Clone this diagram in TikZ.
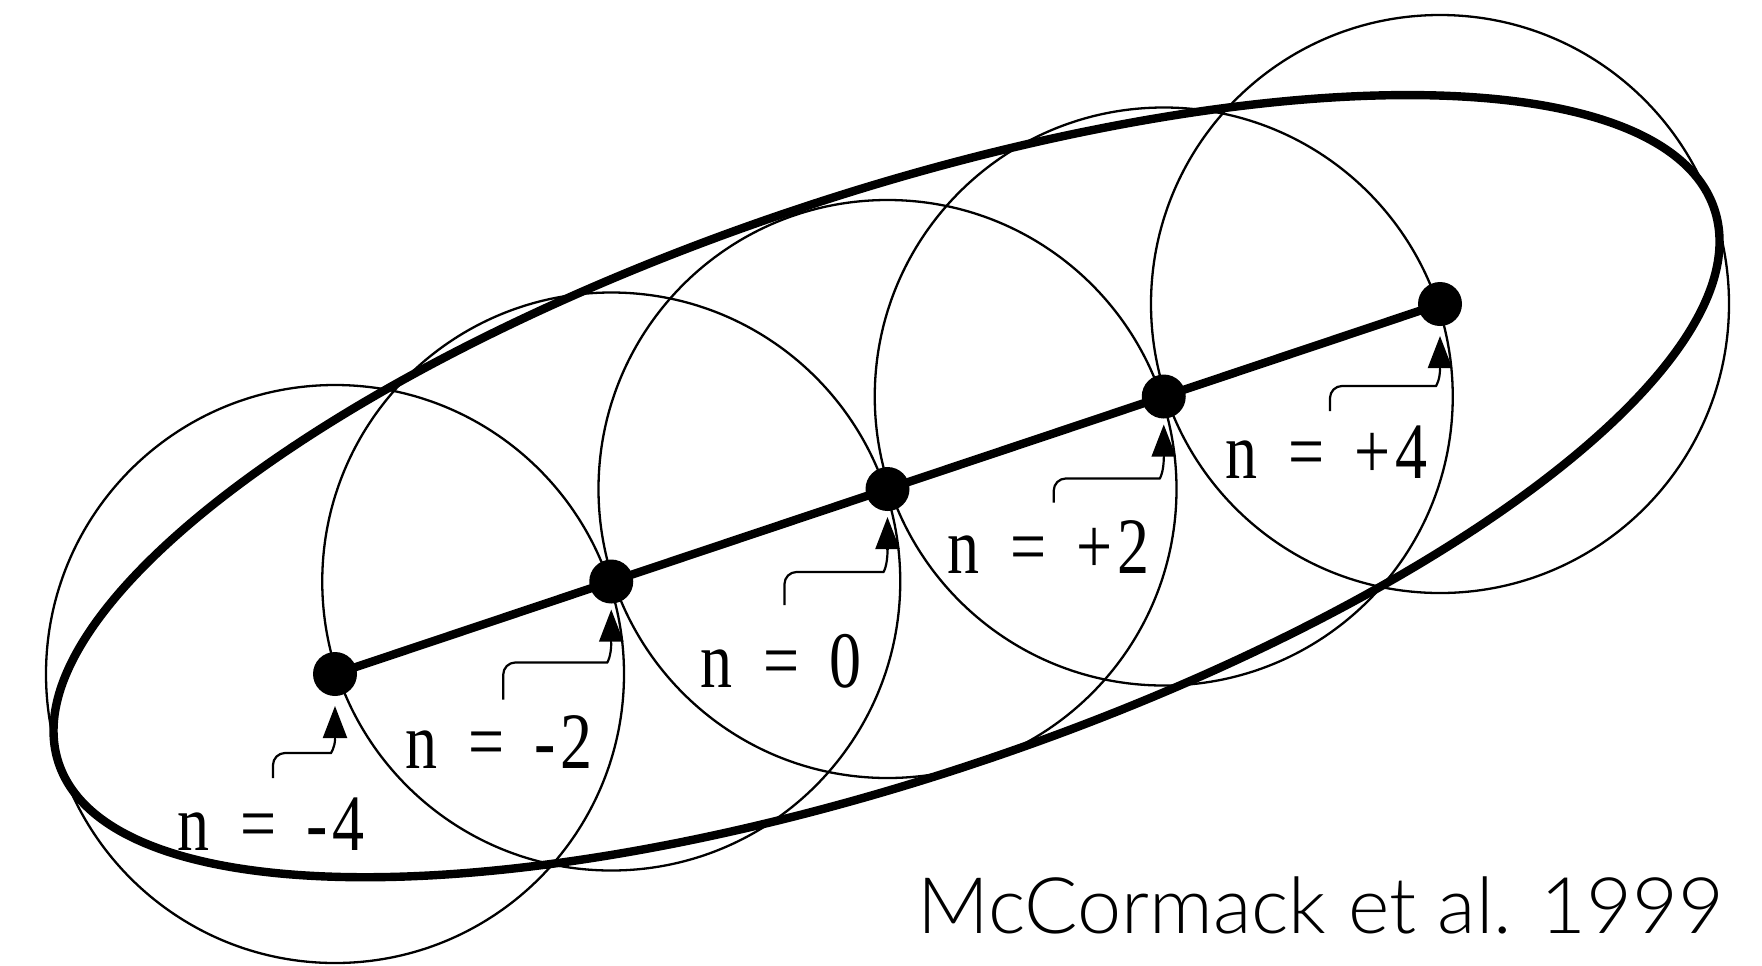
\documentclass[tikz,border=0pt]{standalone}
\usepackage{fontspec}
\setmainfont{Liberation Serif}
\newfontfamily\citefont{Lato Light}
\usetikzlibrary{arrows.meta,calc}
\newcommand\leaderarrow[5]{%
  \draw[leaderline, rounded corners=6pt] ($(#1)+(#2,#3)$) -- ($(#1)+(#2,#4)$) -- ($(#1)+(-16,#4)$)
     .. controls ($(#1)+(-4,#4)$) and ($(#1)+(0,#4-6)$) .. ($(#1)+(0,#5+33)$);
  \draw[leaderline,-{Triangle[length=16pt,width=12pt]}] ($(#1)+(0,#5+33)$) -- ($(#1)+(0,#5)$);
}
\begin{document}
\begin{tikzpicture}[x=0.5pt,y=-0.5pt,
  thincircle/.style={line width=1.15pt},
  thickline/.style={line width=4.2pt},
  leaderline/.style={line width=1.1pt},
  dot/.style={circle, fill=black, inner sep=0pt, minimum size=22pt},
  lab/.style={inner sep=0pt, anchor=base west, xscale=0.8, font=\fontsize{40}{40}\selectfont}]
\path[use as bounding box] (0,0) rectangle (1762,965);
% dots
\node[dot] (pm4) at (335,674) {};
\node[dot] (pm2) at (611.25,581.5) {};
\node[dot] (p0) at (887.5,489) {};
\node[dot] (pp2) at (1163.75,396.5) {};
\node[dot] (pp4) at (1440,304) {};
% circles
\foreach \c in {pm4,pm2,p0,pp2,pp4} \draw[thincircle] (\c.center) circle[radius=144.5pt];
% ellipse
\draw[thickline, rotate around={18.51:(p0.center)}] ($(p0.center)+(0,-3)$) ellipse[x radius=436.5pt, y radius=145.5pt];
% axis line
\draw[thickline] (pm4.center) -- (pm2.center) -- (p0.center) -- (pp2.center) -- (pp4.center);
% leaders
\leaderarrow{pm4.center}{-62}{104}{79}{32}
\leaderarrow{pm2.center}{-108}{118}{81}{28}
\leaderarrow{p0.center}{-103}{116}{83}{28}
\leaderarrow{pp2.center}{-110}{106}{82}{28}
\leaderarrow{pp4.center}{-110}{107}{82}{32}
% labels
\node[lab] (lm4) at (177,850) {n\hspace{19.5pt}=\hspace{19pt}-\hspace{2.5pt}4};
\node[lab] (lm2) at (405,768) {n\hspace{19.5pt}=\hspace{19pt}-\hspace{2.5pt}2};
\node[lab] (l0) at (700,687) {n\hspace{19.5pt}=\hspace{19pt}0};
\node[lab] (lp2) at (947,573) {n\hspace{19.5pt}=\hspace{19pt}+\hspace{2.5pt}2};
\node[lab] (lp4) at (1225,478) {n\hspace{19.5pt}=\hspace{19pt}+\hspace{2.5pt}4};
% citation
\node[anchor=base west, inner sep=0pt, xscale=1.015, font=\citefont\fontsize{39}{39}\selectfont] (cite) at (917,933) {McCormack et al. 1999};
\end{tikzpicture}
\end{document}
